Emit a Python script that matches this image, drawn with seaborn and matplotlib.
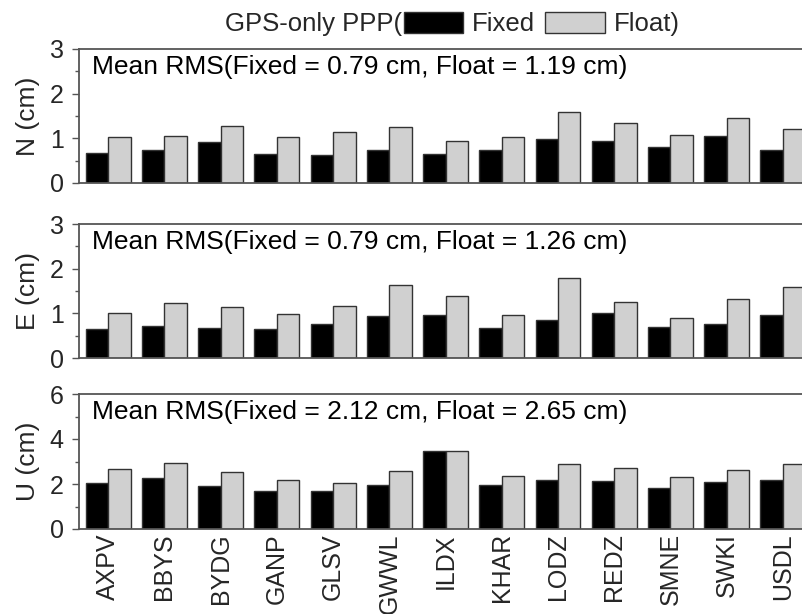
import numpy as np
import pandas as pd
import matplotlib
matplotlib.use("Agg")
import matplotlib.pyplot as plt
import seaborn as sns
from matplotlib.ticker import MultipleLocator

stations = ["AXPV", "BBYS", "BYDG", "GANP", "GLSV", "GWWL", "ILDX",
            "KHAR", "LODZ", "REDZ", "SMNE", "SWKI", "USDL"]
types = ["Fixed", "Float"]

n_fixed = [0.68, 0.74, 0.91, 0.66, 0.62, 0.74, 0.65, 0.73, 0.99, 0.93, 0.80, 1.06, 0.74]
n_float = [1.02, 1.05, 1.28, 1.02, 1.14, 1.26, 0.95, 1.04, 1.59, 1.34, 1.08, 1.46, 1.20]
e_fixed = [0.66, 0.71, 0.68, 0.66, 0.76, 0.93, 0.96, 0.68, 0.85, 1.00, 0.70, 0.76, 0.96]
e_float = [1.01, 1.23, 1.14, 0.99, 1.16, 1.63, 1.39, 0.97, 1.80, 1.25, 0.89, 1.31, 1.60]
u_fixed = [2.04, 2.27, 1.90, 1.70, 1.67, 1.97, 3.48, 1.96, 2.19, 2.15, 1.84, 2.07, 2.19]
u_float = [2.67, 2.92, 2.55, 2.18, 2.06, 2.58, 3.48, 2.36, 2.90, 2.73, 2.31, 2.61, 2.87]

ylabels = ["N (cm)", "E (cm)", "U (cm)"]
mean_texts = ["Mean RMS(Fixed = 0.79 cm, Float = 1.19 cm)",
              "Mean RMS(Fixed = 0.79 cm, Float = 1.26 cm)",
              "Mean RMS(Fixed = 2.12 cm, Float = 2.65 cm)"]
ymax = [3, 3, 6]
ymajor = [1, 1, 2]
yminor = [0.5, 0.5, 1]
title_prefix = "GPS-only PPP("
legend_labels = ["Fixed", "Float)"]

series = [(n_fixed, n_float), (e_fixed, e_float), (u_fixed, u_float)]

sns.set_theme(style="ticks")
plt.rcParams["font.family"] = ["Liberation Sans", "DejaVu Sans"]

W, H = 802, 614
fig = plt.figure(figsize=(W / 100, H / 100), dpi=100)

spine_col = "#555555"
left = 79 / W
width = 732 / W
panels_px = [(49, 183), (224, 358), (394, 529)]

handles = None
for i, (fx, fl) in enumerate(series):
    top, bot = panels_px[i]
    ax = fig.add_axes([left, 1 - bot / H, width, (bot - top) / H])
    df = pd.DataFrame({
        "station": stations * 2,
        "type": [types[0]] * len(stations) + [types[1]] * len(stations),
        "value": list(fx) + list(fl),
    })
    sns.barplot(data=df, x="station", y="value", hue="type",
                palette=["black", "#d0d0d0"], width=0.8, edgecolor="#333333",
                linewidth=1.0, ax=ax, errorbar=None)
    if handles is None:
        handles, _ = ax.get_legend_handles_labels()
    if ax.get_legend() is not None:
        ax.get_legend().remove()
    ax.set_xlim(-0.52, 12.5)
    ax.set_ylim(0, ymax[i])
    ax.yaxis.set_major_locator(MultipleLocator(ymajor[i]))
    ax.yaxis.set_minor_locator(MultipleLocator(yminor[i]))
    ax.tick_params(axis="y", which="major", length=5, width=1.0, color=spine_col,
                   labelsize=18, pad=6, direction="out")
    ax.tick_params(axis="y", which="minor", length=3, width=1.0, color=spine_col,
                   direction="out")
    ax.tick_params(axis="x", length=0, pad=3, labelsize=18, labelrotation=90)
    for s in ["left", "top", "bottom", "right"]:
        ax.spines[s].set_color(spine_col)
        ax.spines[s].set_linewidth(1.3)
    ax.set_xlabel("")
    ax.set_ylabel(ylabels[i], fontsize=19)
    ax.yaxis.set_label_coords(-0.053, 0.5)
    if i < 2:
        ax.set_xticklabels([])
    ax.text(0.018, 0.955, mean_texts[i], transform=ax.transAxes,
            fontsize=19, ha="left", va="top", color="black")

fig.text(402 / W, 1 - 24 / H, title_prefix, ha="right", va="center", fontsize=18.5)
fig.legend(handles, legend_labels, loc="center left",
           bbox_to_anchor=(404 / W, 1 - 24 / H), ncol=2, frameon=False,
           fontsize=18.5, handlelength=2.3, handleheight=0.9,
           handletextpad=0.35, columnspacing=0.4, borderpad=0, borderaxespad=0)

fig.savefig("out.png", dpi=100)
